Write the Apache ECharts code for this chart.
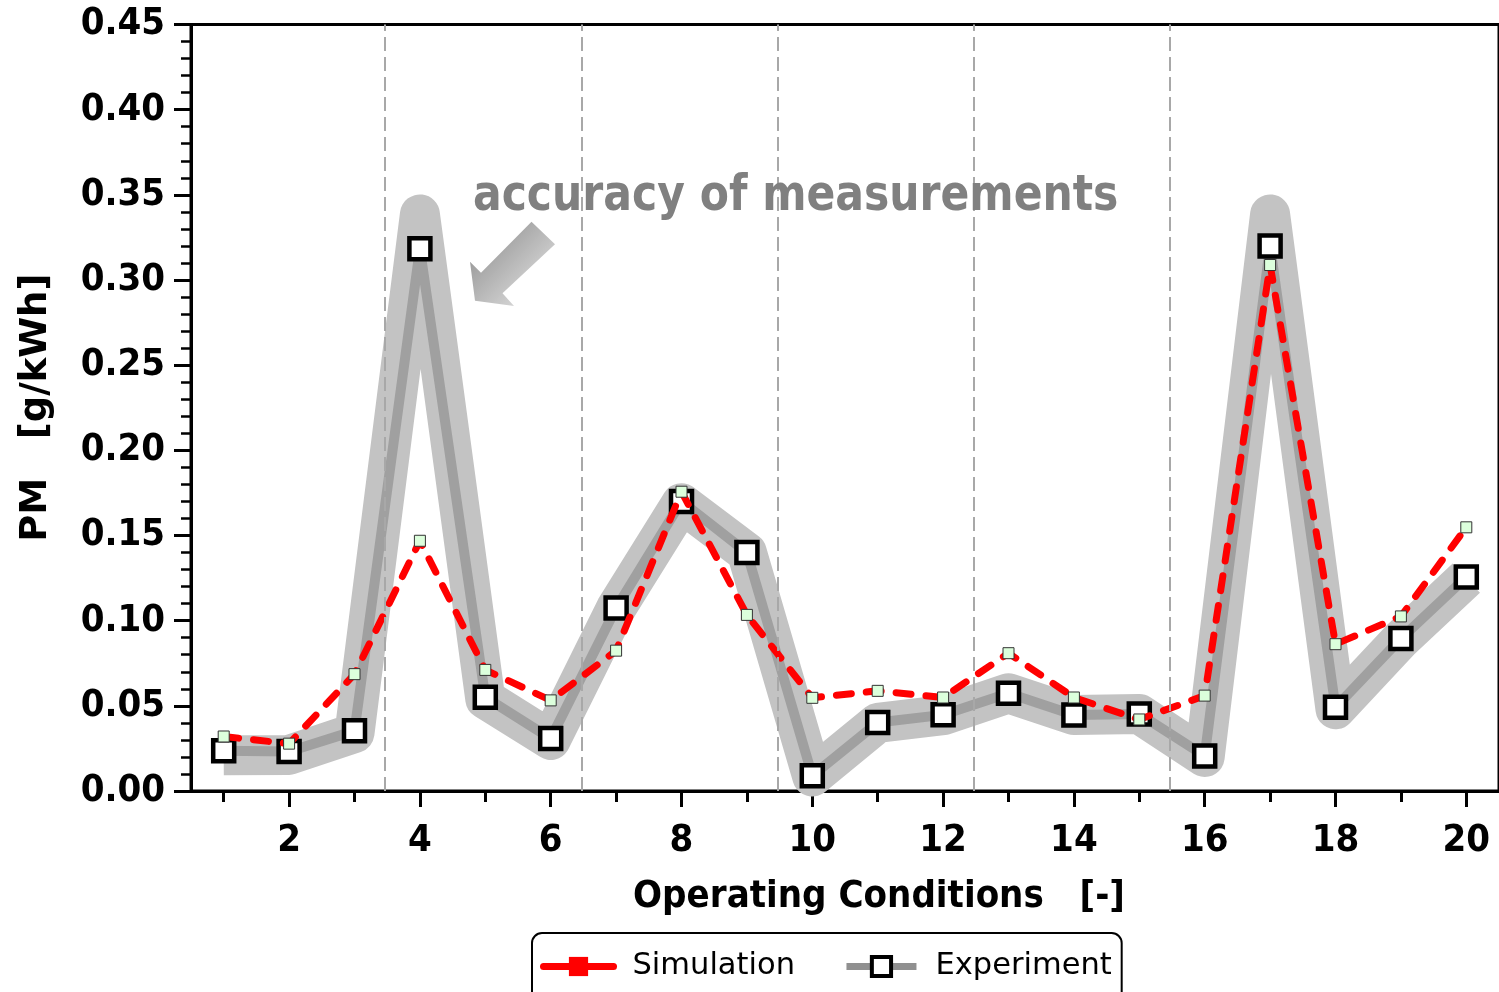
<!DOCTYPE html>
<html>
<head>
<meta charset="utf-8">
<script src="https://cdn.jsdelivr.net/npm/echarts@6/dist/echarts.min.js"></script>
<style>
html,body{margin:0;padding:0;background:#fff;}
#chart{width:1499px;height:992px;}
</style>
</head>
<body>
<div id="chart"></div>
<script>
// ---- data ----
const conditions = [1,2,3,4,5,6,7,8,9,10,11,12,13,14,15,16,17,18,19,20];
const simulation = [0.0320,0.0278,0.0686,0.1469,0.0711,0.0532,0.0824,0.1757,0.1034,0.0547,0.0588,0.0549,0.0809,0.0549,0.0420,0.0560,0.3088,0.0862,0.1025,0.1548];
const experiment = [0.0236,0.0232,0.0353,0.3183,0.0550,0.0308,0.1074,0.1700,0.1400,0.0090,0.0402,0.0447,0.0574,0.0446,0.0452,0.0206,0.3200,0.0491,0.0895,0.1256];
// centre of the grey "accuracy of measurements" band
const accuracyBand = [0.0210,0.0212,0.0340,0.3385,0.0540,0.0300,0.1074,0.1690,0.1400,0.0085,0.0400,0.0445,0.0574,0.0446,0.0452,0.0200,0.3385,0.0480,0.0890,0.1250];
const sectionBounds = [3.47,6.47,9.47,12.47,15.47];
const yTicks = {min:0, max:0.45, step:0.05};

const FONT = "'DejaVu Sans Condensed','DejaVu Sans',sans-serif";
const TEXTFONT = "'DejaVu Sans',Verdana,sans-serif";

const pairs = arr => conditions.map((c,i)=>[c,arr[i]]);

const chart = echarts.init(document.getElementById('chart'), null, {renderer:'canvas'});
const option = {
  animation:false,
  backgroundColor:'#fff',
  grid:{left:191,top:24.5,width:1313,height:766.5,show:true,borderColor:'#000',borderWidth:3,backgroundColor:'transparent'},
  xAxis:[
    {type:'category',data:conditions.map(String),boundaryGap:true,position:'bottom',
     axisLine:{show:true,lineStyle:{color:'#000',width:3}},
     axisTick:{show:true,alignWithLabel:true,inside:false,length:16,lineStyle:{color:'#000',width:3},
       interval:(i,v)=>Number(v)%2===0},
     axisLabel:{show:true,interval:(i,v)=>Number(v)%2===0,margin:31,color:'#000',fontSize:38,fontWeight:'bold',fontFamily:FONT},
     splitLine:{show:false}},
    {type:'category',data:conditions.map(String),boundaryGap:true,position:'bottom',
     axisLine:{show:false},
     axisTick:{show:true,alignWithLabel:true,inside:false,length:11,lineStyle:{color:'#000',width:3},
       interval:(i,v)=>Number(v)%2===1},
     axisLabel:{show:false},splitLine:{show:false}},
    {type:'value',min:0.5,max:20.5,show:false,splitLine:{show:false}}
  ],
  yAxis:{type:'value',min:yTicks.min,max:yTicks.max,interval:yTicks.step,
    name:'PM   [g/kWh]',nameLocation:'middle',nameRotate:90,nameGap:136,
    nameTextStyle:{color:'#000',fontSize:37,fontWeight:'bold',fontFamily:TEXTFONT},
    axisLine:{show:true,lineStyle:{color:'#000',width:3}},
    axisTick:{show:true,inside:false,length:17,lineStyle:{color:'#000',width:3}},
    minorTick:{show:true,splitNumber:5,length:10,lineStyle:{color:'#000',width:2.5}},
    splitLine:{show:false},minorSplitLine:{show:false},
    axisLabel:{margin:26,color:'#000',fontSize:38,fontWeight:'bold',fontFamily:FONT,formatter:v=>v.toFixed(2)}
  },
  legend:{
    left:532,top:933,orient:'horizontal',
    borderColor:'#000',borderWidth:2,borderRadius:10,
    padding:[18,10,40,8],itemGap:48,itemWidth:70,itemHeight:24,
    textStyle:{color:'#000',fontSize:30.5,fontFamily:TEXTFONT,padding:[0,0,0,14]},
    data:[
      {name:'Simulation',itemStyle:{color:'#ff0000',borderWidth:0},lineStyle:{color:'#ff0000',width:7,type:'solid'}},
      {name:'Experiment',itemStyle:{color:'#fff',borderColor:'#000',borderWidth:4},lineStyle:{color:'#909090',width:7}}
    ]
  },
  graphic:[
    {type:'polygon',z:50,
     shape:{points:[[531.5,221.7],[555,244.3],[502.5,293.3],[514,306],[475,300.7],[470,261.7],[481,272.7]]},
     style:{fill:new echarts.graphic.LinearGradient(0,0,1,1,[{offset:0,color:'#858585'},{offset:1,color:'#ececec'}])}},
    {type:'text',z:50,x:473,y:197,scaleX:0.945,
     style:{text:'accuracy of measurements',fill:'#808080',font:"bold 50px "+FONT,textAlign:'left',textVerticalAlign:'middle'}},
    {type:'text',z:50,x:879,y:897,
     style:{text:'Operating Conditions   [-]',fill:'#000',font:"bold 38px "+FONT,textAlign:'center',textVerticalAlign:'middle'}}
  ],
  series:[
    {name:'band',type:'line',xAxisIndex:2,data:pairs(accuracyBand),showSymbol:false,symbol:'none',silent:true,z:1,
     lineStyle:{color:'#c3c3c3',width:40,join:'round',cap:'butt'}},
    {name:'Experiment',type:'line',xAxisIndex:2,data:pairs(experiment),z:2,
     symbol:'rect',symbolSize:21,
     itemStyle:{color:'#fff',borderColor:'#000',borderWidth:4.5},
     lineStyle:{color:'#a0a0a0',width:10,join:'round'}},
    {name:'Simulation',type:'line',xAxisIndex:2,data:pairs(simulation),z:3,
     symbol:'rect',symbolSize:11,
     itemStyle:{color:'#dcffdc',borderColor:'#333',borderWidth:1},
     lineStyle:{color:'#ff0000',width:7,type:[15,15],cap:'round',join:'round'}},
    {name:'sections',type:'line',xAxisIndex:2,data:[],z:4,silent:true,
     markLine:{silent:true,symbol:'none',label:{show:false},
       lineStyle:{color:'#a8a8a8',width:2,type:[14,6]},
       data:sectionBounds.map(x=>({xAxis:x}))}}
  ]
};
chart.setOption(option);
</script>
</body>
</html>
